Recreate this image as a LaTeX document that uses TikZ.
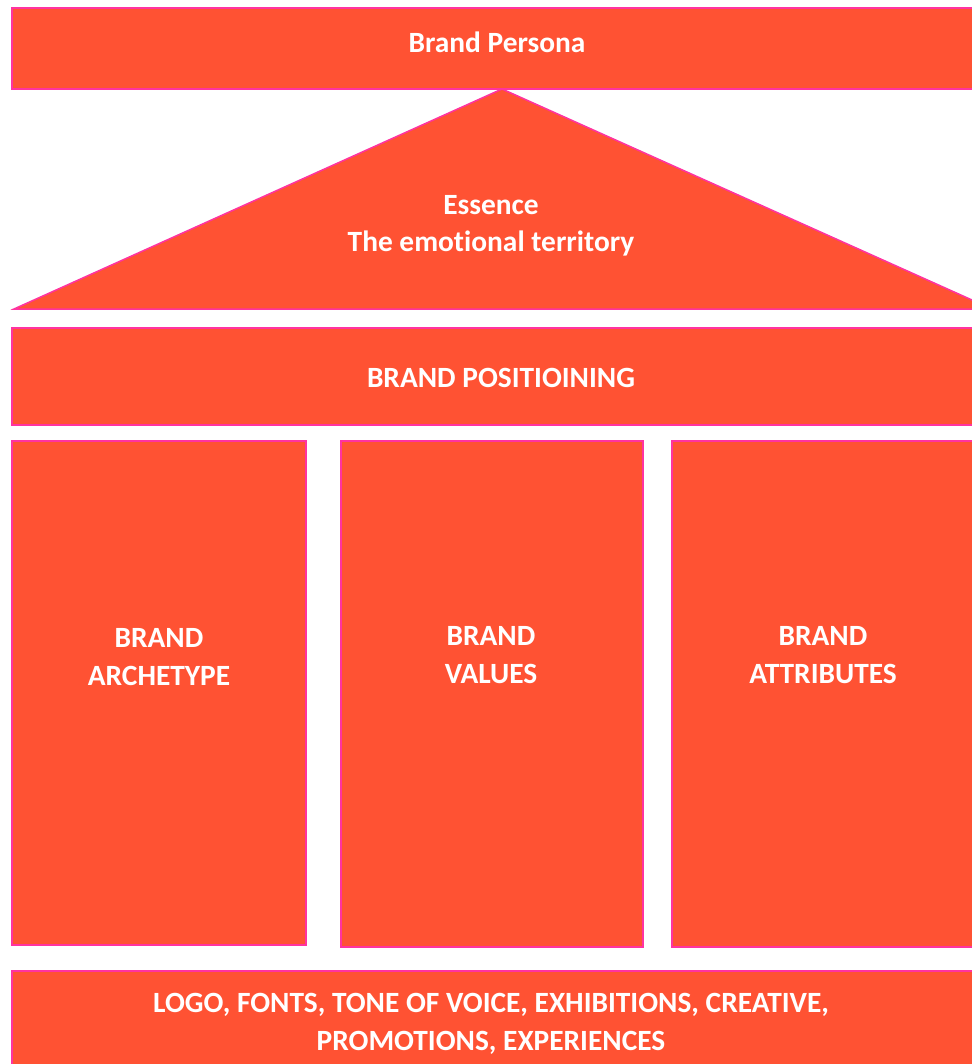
\documentclass[tikz,border=0pt]{standalone}
\usepackage{fontspec}
\setmainfont{Carlito}[RawFeature={-liga;-clig;-dlig}]
\definecolor{boxfill}{RGB}{255,82,51}
\definecolor{boxline}{RGB}{255,51,160}
\begin{document}
\begin{tikzpicture}[x=1bp,y=-1bp,
  block/.style={fill=boxfill,draw=boxline,line width=1.5bp},
  label/.style={text=white,font=\fontsize{29.5}{37.5}\selectfont\bfseries,align=center,inner sep=0pt}]
\useasboundingbox (0,0) rectangle (972,1064);
\clip (0,0) rectangle (972,1064);
\fill[white] (0,0) rectangle (972,1064);
% shapes
\path[block] (12,8) rectangle (985,89);
\path[block] (502,89) -- (992,309) -- (14,309) -- cycle;
\path[block] (12,328) rectangle (992,425);
\path[block] (12,441) rectangle (306,945);
\path[block] (341,441) rectangle (643,947);
\path[block] (672,441) rectangle (985,947);
\path[block] (12,971) rectangle (985,1080);
% texts
\node[label] (persona) at (497,42.5) {Brand Persona};
\node[label] (essence) at (491,226) {Essence\\The emotional territory};
\node[label] (positioning) at (501,378) {BRAND POSITIOINING};
\node[label] (archetype) at (159,657) {BRAND\\ARCHETYPE};
\node[label] (values) at (491,655) {BRAND\\VALUES};
\node[label] (attributes) at (823,655) {BRAND\\ATTRIBUTES};
\node[label] (base) at (491,1024) {LOGO, FONTS, TONE OF VOICE, EXHIBITIONS, CREATIVE,\\PROMOTIONS, EXPERIENCES};
\end{tikzpicture}
\end{document}
